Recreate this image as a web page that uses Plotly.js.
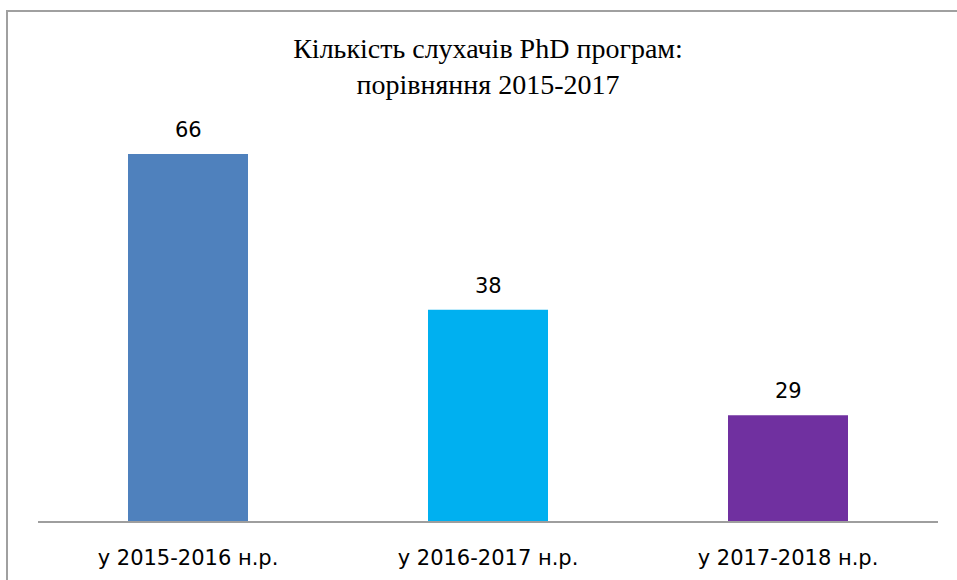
<!DOCTYPE html>
<html>
<head>
<meta charset="utf-8">
<script src="https://cdn.plot.ly/plotly-3.0.1.min.js"></script>
<style>html,body{margin:0;padding:0;background:#fff;}
#wrap{position:relative;width:957px;height:580px;overflow:hidden;}
#chart{width:957px;height:580px;}
#frame{position:absolute;left:6px;top:10px;width:960px;height:600px;border-left:2px solid #a0a0a0;border-top:2px solid #a0a0a0;pointer-events:none;z-index:10;}
</style>
</head>
<body>
<div id="wrap"><div id="chart"></div><div id="frame"></div></div>
<script>
const categories = ['у 2015-2016 н.р.', 'у 2016-2017 н.р.', 'у 2017-2018 н.р.'];
const dataLabels = ['66', '38', '29'];
const barHeights = [66, 38, 19];
const barColors = ['#4f81bd', '#00b0f0', '#7030a0'];
const chartTitle = 'Кількість слухачів PhD програм:<br>порівняння 2015-2017';

const trace = {
  type: 'bar',
  x: categories,
  y: barHeights,
  marker: {color: barColors, line: {width: 0}},
  hoverinfo: 'skip'
};

const annotations = categories.map((c, i) => ({
  x: c, y: barHeights[i], xref: 'x', yref: 'y',
  text: dataLabels[i], showarrow: false,
  yanchor: 'bottom', yshift: 10,
  font: {family: 'DejaVu Sans', size: 21, color: '#000'}
}));

const layout = {
  width: 957, height: 580,
  margin: {l: 38, r: 19, t: 140, b: 59, pad: 0},
  paper_bgcolor: '#fff', plot_bgcolor: '#fff',
  bargap: 0.6,
  showlegend: false,
  title: {
    text: chartTitle,
    font: {family: 'Liberation Serif', size: 28, color: '#000'},
    x: 0.5, xref: 'paper', xanchor: 'center',
    y: 0.90, yref: 'container', yanchor: 'top'
  },
  xaxis: {
    showline: true, linecolor: '#9e9e9e', linewidth: 2,
    ticks: '', showgrid: false, zeroline: false,
    tickfont: {family: 'DejaVu Sans', size: 21, color: '#000'},
    ticklabelstandoff: 17
  },
  yaxis: {
    range: [0, 68.5], visible: false, showgrid: false, zeroline: false
  },
  annotations: annotations
};

Plotly.newPlot('chart', [trace], layout, {displayModeBar: false, staticPlot: true});
</script>
</body>
</html>
